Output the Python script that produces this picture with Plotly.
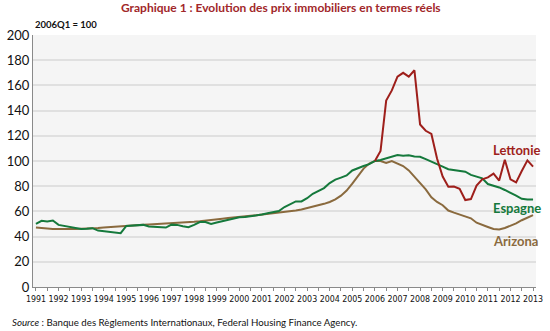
import plotly.graph_objects as go

# Quarterly periods 1991Q1 .. 2013Q1 expressed as decimal years
start_year = 1991
n_quarters = 89
quarters = [start_year + i / 4 for i in range(n_quarters)]

# Real house price indices, 2006Q1 = 100
espagne = [
    50.1, 52.5, 52.0, 52.8, 49.3, 48.5, 47.5, 46.3,
    46.1, 46.3, 46.7, 44.8, 44.3, 44.0, 43.5, 42.7,
    48.5, 48.8, 49.0, 49.3, 48.0, 47.7, 47.5, 47.2,
    49.5, 49.3, 48.2, 47.5, 49.3, 51.5, 51.5, 50.1,
    51.2, 52.3, 53.3, 54.3, 55.3, 55.5, 56.0, 56.5,
    57.5, 58.6, 59.3, 60.3, 63.5, 66.0, 67.9, 67.9,
    70.5, 74.0, 76.5, 78.5, 82.5, 85.2, 86.8, 88.5,
    92.5, 94.5, 96.0, 97.5, 100.0, 100.8, 102.0, 103.0,
    104.7, 104.2, 104.5, 103.6, 103.4, 101.5, 99.3, 97.5,
    95.5, 93.5, 93.0, 92.3, 91.5, 89.0, 87.5, 86.2,
    81.7, 80.5, 79.0, 77.0, 75.0, 72.5, 70.0, 69.4,
    69.4,
]

arizona = [
    47.2, 47.0, 46.5, 46.0, 46.2, 46.3, 46.1, 46.0,
    46.1, 46.3, 46.5, 46.8, 47.2, 47.6, 48.0, 48.4,
    48.8, 49.2, 49.3, 49.5, 49.7, 49.9, 50.2, 50.5,
    50.6, 50.8, 51.0, 51.3, 51.7, 52.1, 52.5, 53.0,
    53.5, 54.2, 54.7, 55.3, 55.8, 56.2, 56.6, 57.0,
    57.5, 57.9, 58.5, 59.2, 59.7, 60.2, 60.8, 61.5,
    62.5, 63.4, 64.5, 66.0, 67.5, 69.5, 72.5, 76.5,
    82.0, 88.0, 94.0, 98.0, 100.0, 100.0, 98.4, 100.0,
    98.2, 96.0, 92.5, 87.5, 82.5, 77.5, 71.2, 67.5,
    64.9, 60.7, 59.0, 57.6, 55.8, 54.5, 51.0, 49.0,
    47.6, 46.0, 45.6, 46.8, 48.4, 50.5, 53.0, 55.0,
    57.1,
]

# Latvia series only available from 2006Q1
lettonie_start = 2006
lettonie = [
    100.0, 108.0, 148.0, 156.0, 167.0, 170.0, 167.0, 172.0,
    129.0, 124.0, 121.5, 102.0, 87.7, 79.5, 79.8, 78.0,
    69.0, 69.8, 80.5, 85.5, 87.0, 90.0, 84.5, 101.0,
    85.5, 83.0, 92.0, 100.5, 95.5,
]
lettonie_quarters = [lettonie_start + i / 4 for i in range(len(lettonie))]

year_ticks = list(range(1991, 2014))
year_labels = [str(y) for y in year_ticks]

RED = "#9e1f1b"
GREEN = "#15793c"
BROWN = "#8a6a3e"
TITLE_RED = "#a1272a"

fig = go.Figure()
fig.add_trace(go.Scatter(x=quarters, y=arizona, mode="lines",
                         line=dict(color=BROWN, width=2), name="Arizona"))
fig.add_trace(go.Scatter(x=quarters, y=espagne, mode="lines",
                         line=dict(color=GREEN, width=2), name="Espagne"))
fig.add_trace(go.Scatter(x=lettonie_quarters, y=lettonie, mode="lines",
                         line=dict(color=RED, width=2), name="Lettonie"))

# Series labels placed at the right end of the lines
label_x = 2011.13
for text, yv, col in [("Lettonie", 108.7, RED), ("Espagne", 62.7, GREEN),
                      ("Arizona", 36.5, BROWN)]:
    fig.add_annotation(x=label_x, y=yv, xref="x", yref="y", text=f"<b>{text}</b>",
                       showarrow=False, xanchor="left", yanchor="middle",
                       font=dict(family="Lato", size=13, color=col))

fig.add_annotation(x=0.493, y=1.111, xref="paper", yref="paper",
                   text="<b>Graphique 1 : Evolution des prix immobiliers en termes réels</b>",
                   showarrow=False, xanchor="center", yanchor="middle",
                   font=dict(family="Lato", size=12, color=TITLE_RED))
fig.add_annotation(x=0.0, y=1.04, xref="paper", yref="paper",
                   text="<b>2006Q1 = 100</b>", showarrow=False,
                   xanchor="left", yanchor="middle",
                   font=dict(family="Lato", size=9.5, color="#111111"))
fig.add_annotation(x=-0.045, y=-0.139, xref="paper", yref="paper",
                   text="<i>Source</i> : Banque des Règlements Internationaux, Federal Housing Finance Agency.",
                   showarrow=False, xanchor="left", yanchor="middle",
                   font=dict(family="Lato", size=9.7, color="#111111"))

fig.update_layout(
    width=550, height=331,
    margin=dict(l=28, r=7, t=35, b=44),
    paper_bgcolor="white",
    plot_bgcolor="#f5f5f5",
    showlegend=False,
    font=dict(family="Lato", color="#111111"),
)
fig.update_xaxes(
    range=[1990.87, 2013.13],
    tickvals=year_ticks, ticktext=year_labels,
    tickangle=0, ticklabeloverflow="allow",
    tickfont=dict(family="DejaVu Sans Condensed, Liberation Sans Narrow, Lato", size=8.8, color="#111111"),
    ticks="outside", ticklen=3, tickcolor="#888888",
    minor=dict(dtick=0.5, tick0=1991, ticks="outside", ticklen=3, tickcolor="#888888", showgrid=False),
    showgrid=False, showline=True, linecolor="#8a8a8a", linewidth=1,
    zeroline=False,
)
fig.update_yaxes(
    range=[0, 200], dtick=20,
    tickfont=dict(family="Lato", size=13, color="#111111"),
    showgrid=True, gridcolor="#e0e0e0", gridwidth=1.5,
    showline=True, linecolor="#8a8a8a", linewidth=1,
    zeroline=False, ticks="",
)

fig.write_html("out.html")
